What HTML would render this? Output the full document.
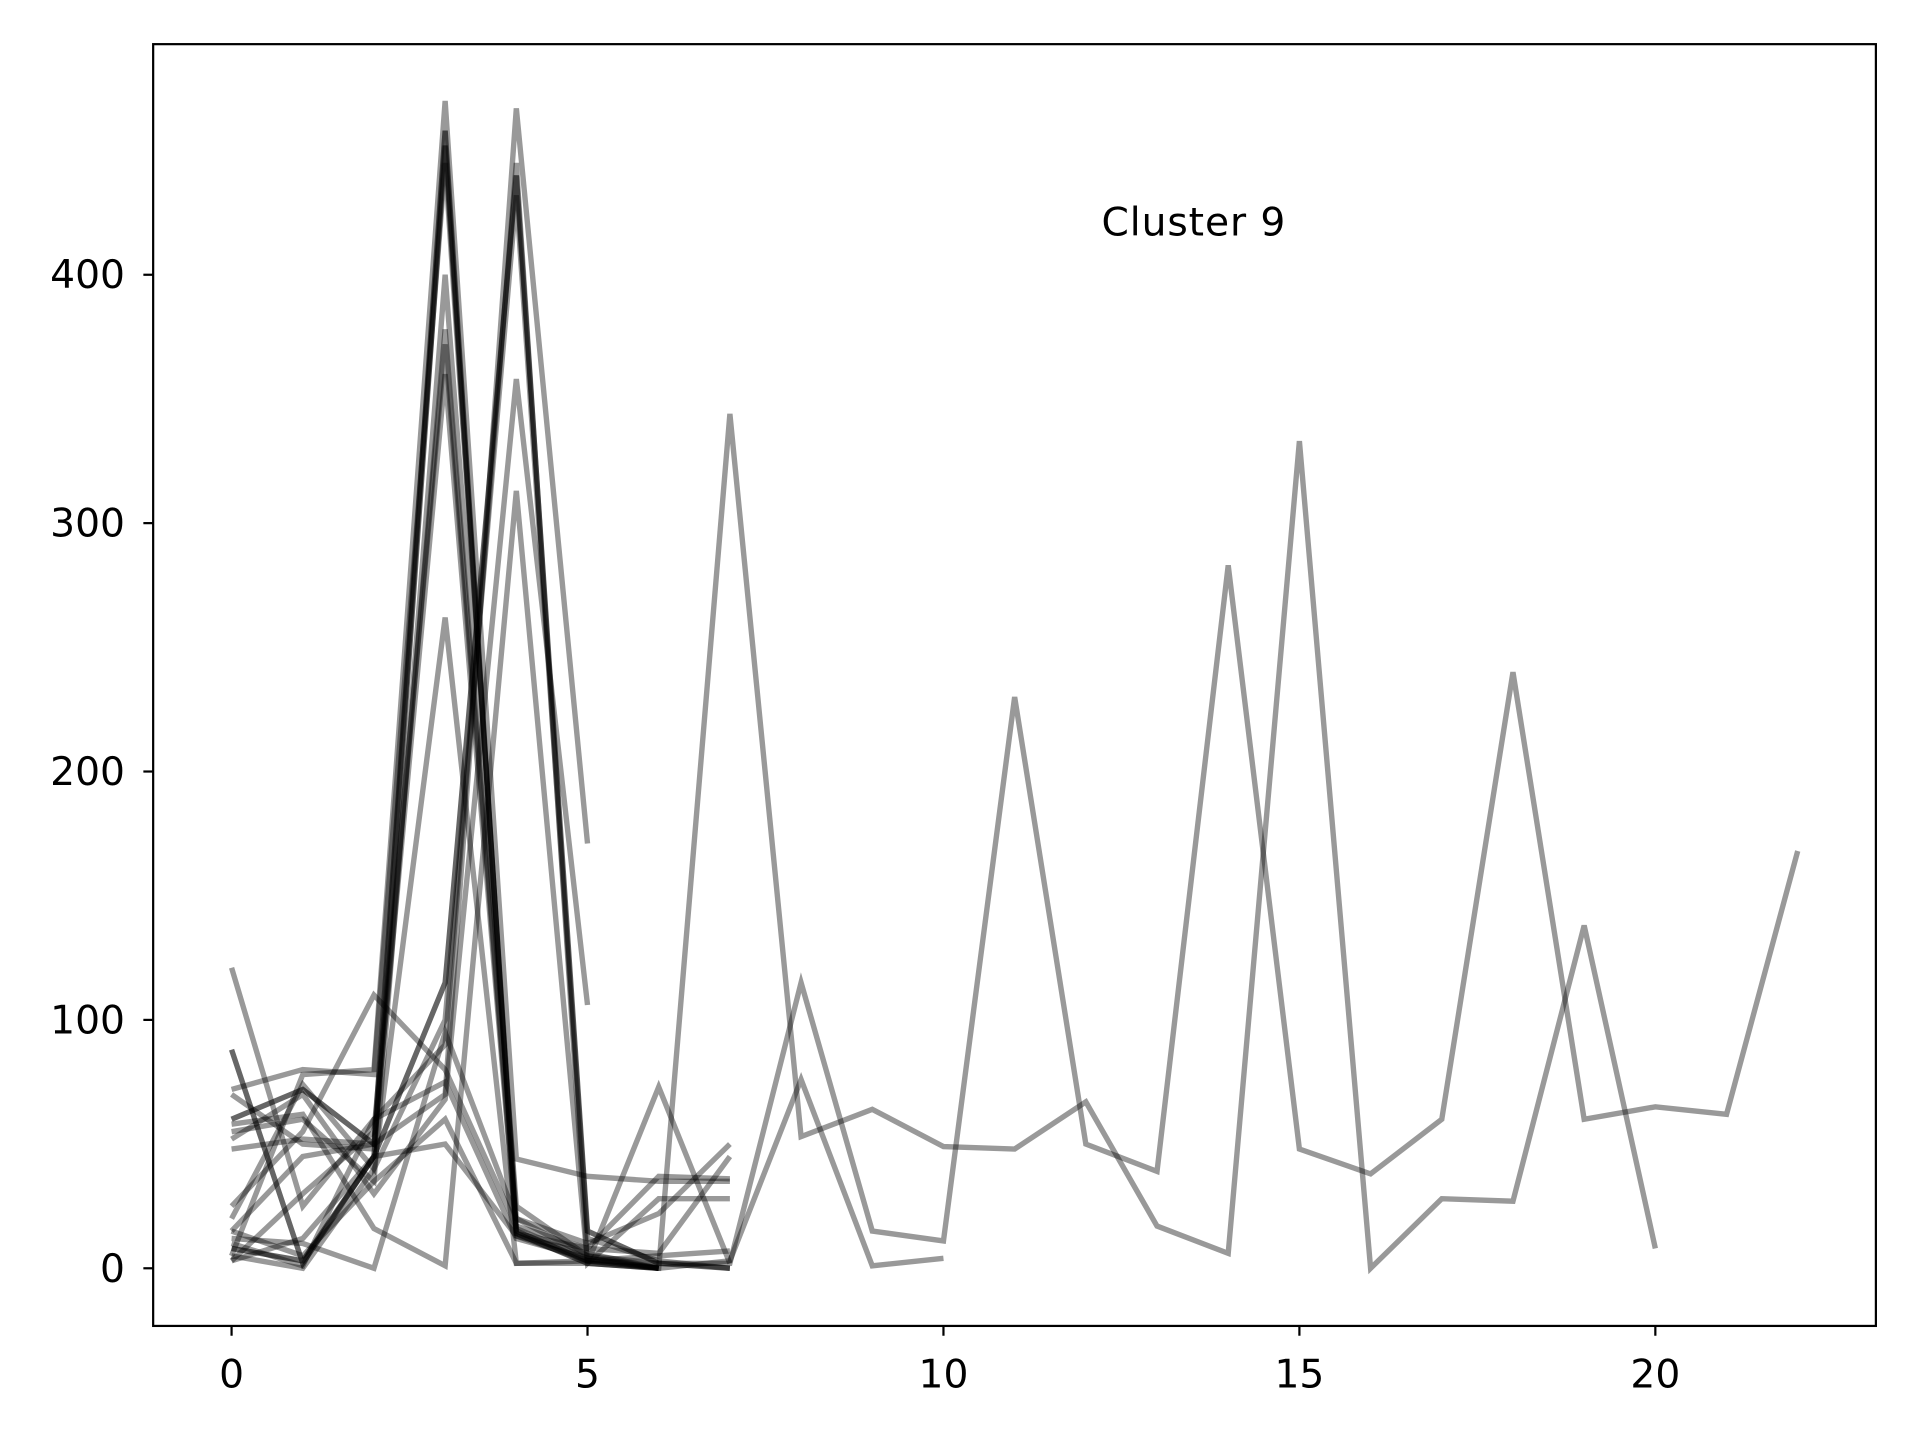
<!DOCTYPE html>
<html><head><meta charset="utf-8">
<style>
html,body{margin:0;padding:0;background:#fff;}
svg{display:block;}
text{font-family:"DejaVu Sans","Liberation Sans",sans-serif;fill:#000;}
</style></head>
<body>
<svg id="chart" width="1920" height="1440" viewBox="0 0 1567 1174" preserveAspectRatio="none" xmlns="http://www.w3.org/2000/svg">
<rect x="0" y="0" width="1567" height="1174" fill="#fff"/>
<g id="series"></g>
<rect x="125" y="36" width="1406" height="1045" fill="none" stroke="#000" stroke-width="1.8"/>
<g id="xticks"></g>
<g id="yticks"></g>
<text x="899" y="192" font-size="32" textLength="150">Cluster 9</text>
</svg>
<script>
const xTicks = [0, 5, 10, 15, 20];
const yTicks = [0, 100, 200, 300, 400];
const s01 = [60, 72, 50, 458, 14, 2, 0];
const s02 = [88, 2, 45, 452, 15, 3, 0];
const s03 = [5, 78, 80, 470, 44, 37, 35, 35];
const s04 = [72, 80, 78, 445, 20, 5, 0];
const s05 = [55, 60, 35, 400, 25, 5, 2];
const s06 = [70, 50, 48, 378, 16, 4, 0];
const s07 = [3, 30, 55, 372, 14, 8, 6, 45];
const s08 = [15, 45, 50, 360, 13, 6, 0];
const s09 = [20, 74, 40, 262, 2, 3, 5, 7];
const s10 = [8, 3, 45, 115, 440, 15, 2, 0];
const s11 = [5, 0, 40, 100, 432, 12, 3, 0];
const s12 = [48, 52, 50, 70, 467, 171];
const s13 = [52, 70, 30, 68, 358, 106];
const s14 = [121, 25, 60, 90, 445, 2, 73, 2];
const s15 = [58, 62, 16, 1, 313, 2, 28, 28];
const s16 = [12, 10, 0, 95, 20, 10, 22, 50];
const s17 = [25, 55, 110, 80, 17, 8, 37, 36];
const sP = [15, 5, 35, 60, 2, 2, 0, 344, 53, 64, 49, 48, 67, 17, 6, 333, 0, 28, 27, 138, 8];
const sQ = [3, 12, 45, 50, 13, 3, 2, 2, 115, 15, 11, 230, 50, 39, 283, 48, 38, 60, 240, 60, 65, 62, 168];
const sR = [10, 1, 60, 75, 12, 4, 0, 3, 76, 1, 4];
const allSeries = [s01,s02,s03,s04,s05,s06,s07,s08,s09,s10,s11,s12,s13,s14,s15,s16,s17,sP,sQ,sR];
const darkSeries = [0, 1, 9];

const X = v => 189 + v * 58.1;
const Y = v => 1034 - v * 2.025;
const NS = "http://www.w3.org/2000/svg";

const g = document.getElementById('series');
allSeries.forEach((s, i) => {
  const p = document.createElementNS(NS, 'polyline');
  
  
  p.setAttribute('points', s.map((v, k) => X(k) + ',' + Y(v)).join(' '));
  p.setAttribute('fill', 'none');
  p.setAttribute('stroke', '#000');
  p.setAttribute('stroke-opacity', darkSeries.includes(i) ? '0.6' : '0.4');
  p.setAttribute('stroke-width', '4.4');
  p.setAttribute('stroke-linejoin', 'miter');
  g.appendChild(p);
});

const xg = document.getElementById('xticks');
xTicks.forEach(t => {
  const l = document.createElementNS(NS, 'line');
  
  
  l.setAttribute('x1', X(t)); l.setAttribute('x2', X(t));
  l.setAttribute('y1', 1081); l.setAttribute('y2', 1089);
  l.setAttribute('stroke', '#000'); l.setAttribute('stroke-width', '1.8');
  xg.appendChild(l);
  const tx = document.createElementNS(NS, 'text');
  
  
  tx.setAttribute('x', X(t)); tx.setAttribute('y', 1131);
  tx.setAttribute('text-anchor', 'middle'); tx.setAttribute('font-size', '32');
  tx.textContent = t;
  xg.appendChild(tx);
});
const yg = document.getElementById('yticks');
yTicks.forEach(t => {
  const l = document.createElementNS(NS, 'line');
  
  
  l.setAttribute('x1', 117); l.setAttribute('x2', 125);
  l.setAttribute('y1', Y(t)); l.setAttribute('y2', Y(t));
  l.setAttribute('stroke', '#000'); l.setAttribute('stroke-width', '1.8');
  yg.appendChild(l);
  const tx = document.createElementNS(NS, 'text');
  
  
  tx.setAttribute('x', 102); tx.setAttribute('y', Y(t) + 11);
  tx.setAttribute('text-anchor', 'end'); tx.setAttribute('font-size', '32');
  tx.textContent = t;
  yg.appendChild(tx);
});
</script>
</body></html>
